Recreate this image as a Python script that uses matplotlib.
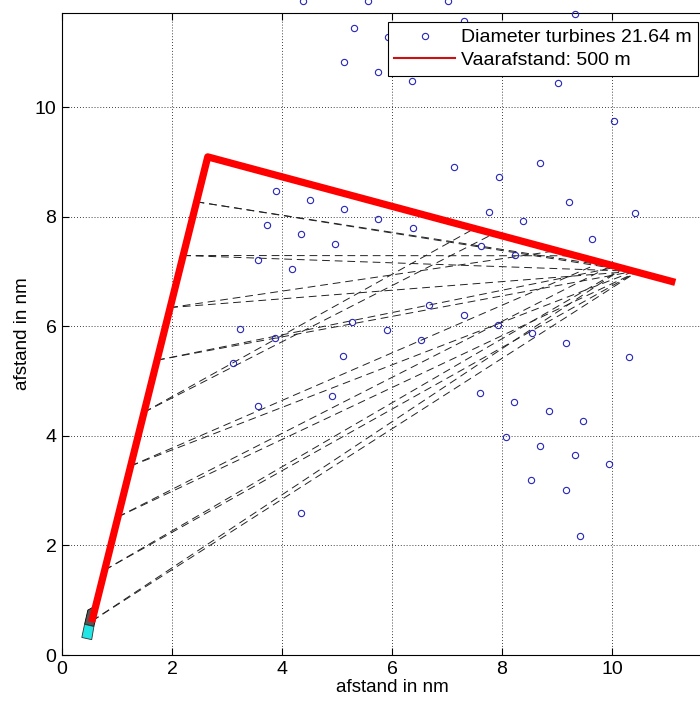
import numpy as np
import matplotlib.pyplot as plt
from matplotlib.lines import Line2D
from matplotlib.patches import Polygon

plt.rcParams['font.family'] = ['Liberation Sans', 'DejaVu Sans']

# turbine positions (nm)
turb_x = [5.30, 5.92, 7.30, 9.33, 5.13, 5.75, 6.37, 9.01, 10.04, 4.38, 5.56, 7.02,
          3.89, 4.50, 5.13, 3.72, 4.34, 4.96, 3.57, 4.19, 3.24, 3.87, 5.28, 5.11, 3.10,
          7.13, 8.70, 7.95, 9.21, 10.42, 7.76, 5.75, 6.38, 8.38, 9.63, 7.62, 8.24,
          6.68, 7.31, 7.92, 5.90, 6.53, 8.54, 9.16, 10.30,
          3.56, 4.90, 4.35,
          7.60, 8.22, 8.85, 9.47, 8.07, 8.70, 9.32, 9.95, 8.53, 9.16, 9.41]
turb_y = [11.45, 11.28, 11.57, 11.70, 10.82, 10.64, 10.47, 10.44, 9.75, 11.93, 11.93, 11.93,
          8.47, 8.30, 8.14, 7.84, 7.68, 7.50, 7.20, 7.04, 5.95, 5.78, 6.08, 5.46, 5.33,
          8.91, 8.98, 8.73, 8.26, 8.06, 8.09, 7.96, 7.80, 7.92, 7.60, 7.46, 7.30,
          6.38, 6.20, 6.03, 5.93, 5.74, 5.87, 5.70, 5.43,
          4.54, 4.72, 2.60,
          4.78, 4.62, 4.45, 4.27, 3.98, 3.81, 3.65, 3.49, 3.19, 3.02, 2.17]

# sailing route (red line)
route_x = [0.54, 2.65, 11.15]
route_y = [0.60, 9.09, 6.80]

# ship outline at the start of the route
hull_x = [0.36, 0.54, 0.58, 0.41]
hull_y = [0.32, 0.28, 0.52, 0.56]
bow_x = [0.41, 0.58, 0.63, 0.58, 0.47]
bow_y = [0.56, 0.52, 0.78, 0.88, 0.82]

# sight lines: start height on the first leg, end x on the second leg
start_y = [0.62, 1.55, 2.52, 3.45, 4.43, 5.38, 6.34, 7.29, 8.27]
end_x1 = [10.20, 10.20, 10.00, 9.80, 7.50, 10.10, 9.00, 9.35, 10.20]
end_x2 = [10.45, 10.45, 10.45, 10.40, 7.85, 10.40, 10.40, 10.40, 10.45]

fig = plt.figure(figsize=(7.0, 7.06), dpi=100)
ax = fig.add_axes([62/700, 1-655/706, 660/700, 642/706])

# dashed sight lines from the first leg to the second leg
sx = np.interp(start_y, route_y[:2], route_x[:2])
for ends in (end_x1, end_x2):
    ey = np.interp(ends, route_x[1:], route_y[1:])
    for i in range(len(start_y)):
        ax.plot([sx[i], ends[i]], [start_y[i], ey[i]], color='#222222', lw=0.7,
                dashes=(8, 5), zorder=2)

ax.plot(turb_x, turb_y, 'o', mfc='none', mec='#2626b8', ms=4.5, mew=0.8,
        clip_on=False, zorder=3)
ax.add_patch(Polygon(np.column_stack([bow_x, bow_y]), fc='#555555', ec='k', lw=0.6, zorder=3))
ax.add_patch(Polygon(np.column_stack([hull_x, hull_y]), fc='#22e5e5', ec='#333333', lw=0.6, zorder=3))
ax.plot(route_x, route_y, color='red', lw=5.2, solid_capstyle='butt', zorder=4)

ax.set_xlim(0, 12)
ax.set_ylim(0, 642/54.8)
ax.set_xticks([0, 2, 4, 6, 8, 10])
ax.set_yticks([0, 2, 4, 6, 8, 10])
ax.tick_params(direction='in', top=True, right=True, length=5, labelsize=14, pad=4)
ax.grid(True, color='k', linestyle=(0, (1, 2.5)), lw=0.6)
ax.set_xlabel('afstand in nm', fontsize=13.5, labelpad=1)
ax.set_ylabel('afstand in nm', fontsize=13.5, labelpad=3)

handles = [Line2D([], [], ls='none', marker='o', mfc='none', mec='#2626b8', ms=4.5, mew=0.8),
           Line2D([], [], color='#cc1111', lw=1.5)]
leg = fig.legend(handles, ['Diameter turbines 21.64 m', 'Vaarafstand: 500 m'],
                 loc='upper right', bbox_to_anchor=(698/700, 1-22/706), fontsize=14,
                 frameon=True, fancybox=False, edgecolor='k', framealpha=1,
                 handlelength=3.1, handletextpad=0.3, borderpad=0.35, labelspacing=0.25,
                 borderaxespad=0)
leg.get_frame().set_linewidth(0.8)

fig.savefig('out.png', dpi=100)
